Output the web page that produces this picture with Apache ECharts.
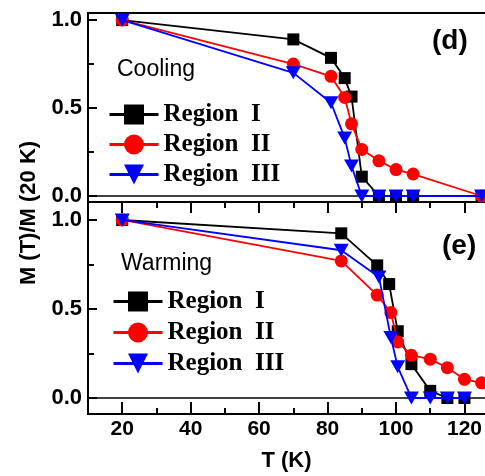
<!DOCTYPE html>
<html><head><meta charset="utf-8">
<script src="https://cdn.jsdelivr.net/npm/echarts@6/dist/echarts.min.js"></script>
<style>html,body{margin:0;padding:0;background:#fff}#c{width:485px;height:476px}</style>
</head><body><div id="c"></div>
<script>
// ---- data ----
const seriesNames = ['Region I', 'Region II', 'Region III'];
const coolT_I   = [20, 70, 81, 85, 87, 90, 95, 100, 105, 125];
const coolI     = [1.0, 0.89, 0.785, 0.67, 0.565, 0.11, 0, 0, 0, 0];
const coolT_II  = [20, 70, 81, 85, 87, 90, 95, 100, 105, 125];
const coolII    = [1.0, 0.75, 0.68, 0.56, 0.41, 0.265, 0.2, 0.15, 0.125, 0];
const coolT_III = [20, 70, 81, 85, 87, 90, 95, 100, 105, 125];
const coolIII   = [1.0, 0.70, 0.53, 0.33, 0.17, 0, 0, 0, 0, 0];
const warmT_I   = [20, 84, 94.5, 98, 100.5, 104.5, 110, 115, 120];
const warmI     = [1.0, 0.925, 0.745, 0.64, 0.375, 0.19, 0.04, 0, 0];
const warmT_II  = [20, 84, 94.5, 98.5, 100.5, 104.5, 110, 115, 120, 125];
const warmII    = [1.0, 0.77, 0.578, 0.48, 0.315, 0.24, 0.218, 0.17, 0.105, 0.085];
const warmT_III = [20, 84, 95, 98.5, 100.5, 104.5, 110, 115, 120];
const warmIII   = [1.0, 0.83, 0.68, 0.34, 0.175, 0, 0, 0, 0];
const xMajorTicks = [20, 40, 60, 80, 100, 120];
const xMinorTicks = [30, 50, 70, 90, 110];
const yMajorTicks = [0, 0.5, 1.0];
const yMinorTicks = [0.25, 0.75];

const zip = (a, b) => a.map((t, i) => [t, b[i]]);
const black = '#000';
const SANS = 'Liberation Sans, Arial, sans-serif';
const sansBold = {fontFamily: SANS, fontWeight: 'bold', fontSize: 21, color: black};

function xAx(grid, pos, opts) {
  return Object.assign({
    type: 'value', gridIndex: grid, position: pos, min: 10, max: 126,
    axisLine: {show: true, onZero: false, lineStyle: {color: black, width: 2}},
    axisTick: {show: false}, axisLabel: {show: false}, splitLine: {show: false}
  }, opts || {});
}
function yAx(grid, min, max, opts) {
  return Object.assign({
    type: 'value', gridIndex: grid, position: 'left', min: min, max: max,
    axisLine: {show: true, onZero: false, lineStyle: {color: black, width: 2}},
    axisTick: {show: false}, axisLabel: {show: false}, splitLine: {show: false}
  }, opts || {});
}
const styles = [
  {symbol: 'rect', symbolSize: 12, color: '#000000'},
  {symbol: 'circle', symbolSize: 13, color: '#ff0000'},
  {symbol: 'triangle', symbolSize: [15, 13], color: '#0000ff', symbolRotate: 180}
];
function ser(i, xi, yi, data, withZero) {
  const s = styles[i];
  const o = {
    type: 'line', name: seriesNames[i], xAxisIndex: xi, yAxisIndex: yi, data: data,
    symbol: s.symbol, symbolSize: s.symbolSize, symbolRotate: s.symbolRotate || 0,
    showAllSymbol: true, z: 3 + i,
    itemStyle: {color: s.color}, lineStyle: {color: s.color, width: 1.8},
    animation: false
  };
  if (withZero) {
    o.markLine = {silent: true, symbol: 'none', label: {show: false},
      lineStyle: {color: black, width: 1.5, type: 'solid'}, data: [{yAxis: 0}], animation: false};
  }
  return o;
}
const legendBase = {
  orient: 'vertical', itemWidth: 49, itemHeight: 25, itemGap: 5,
  data: seriesNames, selectedMode: false,
  lineStyle: {width: 3},
  formatter: n => n.replace(' ', '  '),
  textStyle: {fontFamily: 'Liberation Serif, Times New Roman, serif', fontWeight: 'bold', fontSize: 25, color: black}
};

const option = {
  backgroundColor: '#fff',
  animation: false,
  grid: [
    {left: 88, right: 0, top: 13, height: 189},
    {left: 88, right: 0, top: 202, height: 212}
  ],
  xAxis: [
    xAx(0, 'bottom'),
    xAx(0, 'top'),
    xAx(1, 'bottom', {
      axisTick: {show: true, inside: true, length: 12, customValues: xMajorTicks, lineStyle: {color: black, width: 2}},
      axisLabel: {show: true, customValues: xMajorTicks, margin: 5, ...sansBold},
      name: 'T (K)', nameLocation: 'middle', nameGap: 36,
      nameTextStyle: {...sansBold, fontSize: 22}
    }),
    xAx(1, 'bottom', {axisTick: {show: true, inside: true, length: 6, customValues: xMinorTicks, lineStyle: {color: black, width: 2}}}),
    xAx(1, 'top', {axisTick: {show: true, inside: true, length: 11, customValues: xMajorTicks, lineStyle: {color: black, width: 2}}}),
    xAx(1, 'top', {axisTick: {show: true, inside: true, length: 6, customValues: xMinorTicks, lineStyle: {color: black, width: 2}}})
  ],
  yAxis: [
    yAx(0, -0.034, 1.04, {
      axisTick: {show: true, inside: true, length: 9, customValues: yMajorTicks, lineStyle: {color: black, width: 2}},
      axisLabel: {show: true, customValues: yMajorTicks, margin: 6, formatter: v => v.toFixed(1), ...sansBold, fontSize: 22}
    }),
    yAx(0, -0.034, 1.04, {axisTick: {show: true, inside: true, length: 6, customValues: yMinorTicks, lineStyle: {color: black, width: 2}}}),
    yAx(1, -0.09, 1.101, {
      axisTick: {show: true, inside: true, length: 9, customValues: yMajorTicks, lineStyle: {color: black, width: 2}},
      axisLabel: {show: true, customValues: yMajorTicks, margin: 6, formatter: v => v.toFixed(1), ...sansBold, fontSize: 22}
    }),
    yAx(1, -0.09, 1.101, {axisTick: {show: true, inside: true, length: 6, customValues: yMinorTicks, lineStyle: {color: black, width: 2}}})
  ],
  legend: [
    Object.assign({}, legendBase, {top: 97, left: 103}),
    Object.assign({}, legendBase, {top: 284, left: 107, itemGap: 6})
  ],
  title: [
    {text: 'Cooling', left: 117, top: 58, textStyle: {fontFamily: SANS, fontWeight: 'normal', fontSize: 23, color: black}, padding: 0},
    {text: 'Warming', left: 121, top: 252, textStyle: {fontFamily: SANS, fontWeight: 'normal', fontSize: 23, color: black}, padding: 0},
    {text: '(d)', left: 432, top: 27, textStyle: {fontFamily: SANS, fontWeight: 'bold', fontSize: 28, color: black}, padding: 0},
    {text: '(e)', left: 442, top: 232, textStyle: {fontFamily: SANS, fontWeight: 'bold', fontSize: 28, color: black}, padding: 0}
  ],
  graphic: [
    {type: 'text', x: 29, y: 213, rotation: Math.PI / 2,
     style: {text: 'M (T)/M (20 K)', fill: black, font: 'bold 22px "Liberation Sans", Arial, sans-serif', align: 'center', verticalAlign: 'middle'}}
  ],
  series: [
    ser(0, 0, 0, zip(coolT_I, coolI), true),
    ser(1, 0, 0, zip(coolT_II, coolII)),
    ser(2, 0, 0, zip(coolT_III, coolIII)),
    ser(0, 2, 2, zip(warmT_I, warmI), true),
    ser(1, 2, 2, zip(warmT_II, warmII)),
    ser(2, 2, 2, zip(warmT_III, warmIII))
  ]
};
const chart = echarts.init(document.getElementById('c'), null, {renderer: 'canvas'});
chart.setOption(option);
</script>
</body></html>
